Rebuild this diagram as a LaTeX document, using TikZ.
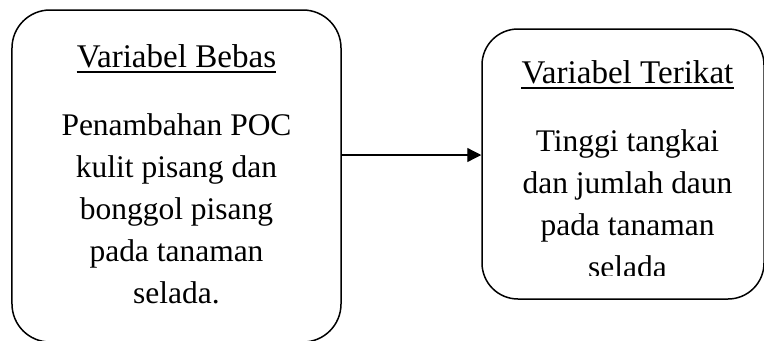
\documentclass[tikz,border=0pt]{standalone}
\usepackage{fontspec}
\setmainfont{Liberation Serif}
\usetikzlibrary{arrows.meta}
\begin{document}
\begin{tikzpicture}[x=1bp,y=-1bp,
  box/.style={draw, line width=1.5bp, rounded corners=38bp, inner sep=0pt},
  body/.style={align=center, inner sep=0pt, font=\fontsize{31.6}{42}\selectfont},
  ttl/.style={inner sep=0pt, font=\fontsize{33.2}{42}\selectfont},
  uline/.style={line width=2bp},
  conn/.style={line width=1.3bp, -{Triangle[length=14bp,width=14bp]}}]
\useasboundingbox (0,0) rectangle (764,340);
\begin{scope}
\clip (0,0) rectangle (764,340);
\node[box, minimum width=329bp, minimum height=332bp] (left) at (176.5,176) {};
\node[box, rounded corners=36bp, minimum width=282bp, minimum height=270bp] (right) at (623,164) {};
\node[ttl, anchor=base] (lt) at (176.5,67) {Variabel Bebas};
\draw[uline] ([yshift=-4.5bp]lt.base west) -- ([yshift=-4.5bp]lt.base east);
\node[body, anchor=base] (lb) at (176.5,303) {Penambahan POC\\kulit pisang dan\\bonggol pisang\\pada tanaman\\selada.};
\node[ttl, anchor=base] (rt) at (627.5,83) {Variabel Terikat};
\draw[uline] ([yshift=-4.5bp]rt.base west) -- ([yshift=-4.5bp]rt.base east);
\begin{scope}
\clip (482,0) rectangle (764,275);
\node[body, anchor=base] (rb) at (627.5,277) {Tinggi tangkai\\dan jumlah daun\\pada tanaman\\selada};
\end{scope}
\coordinate (ay) at (0,155);
\draw[conn] (left.east |- ay) -- (right.west |- ay);
\end{scope}
\end{tikzpicture}
\end{document}
